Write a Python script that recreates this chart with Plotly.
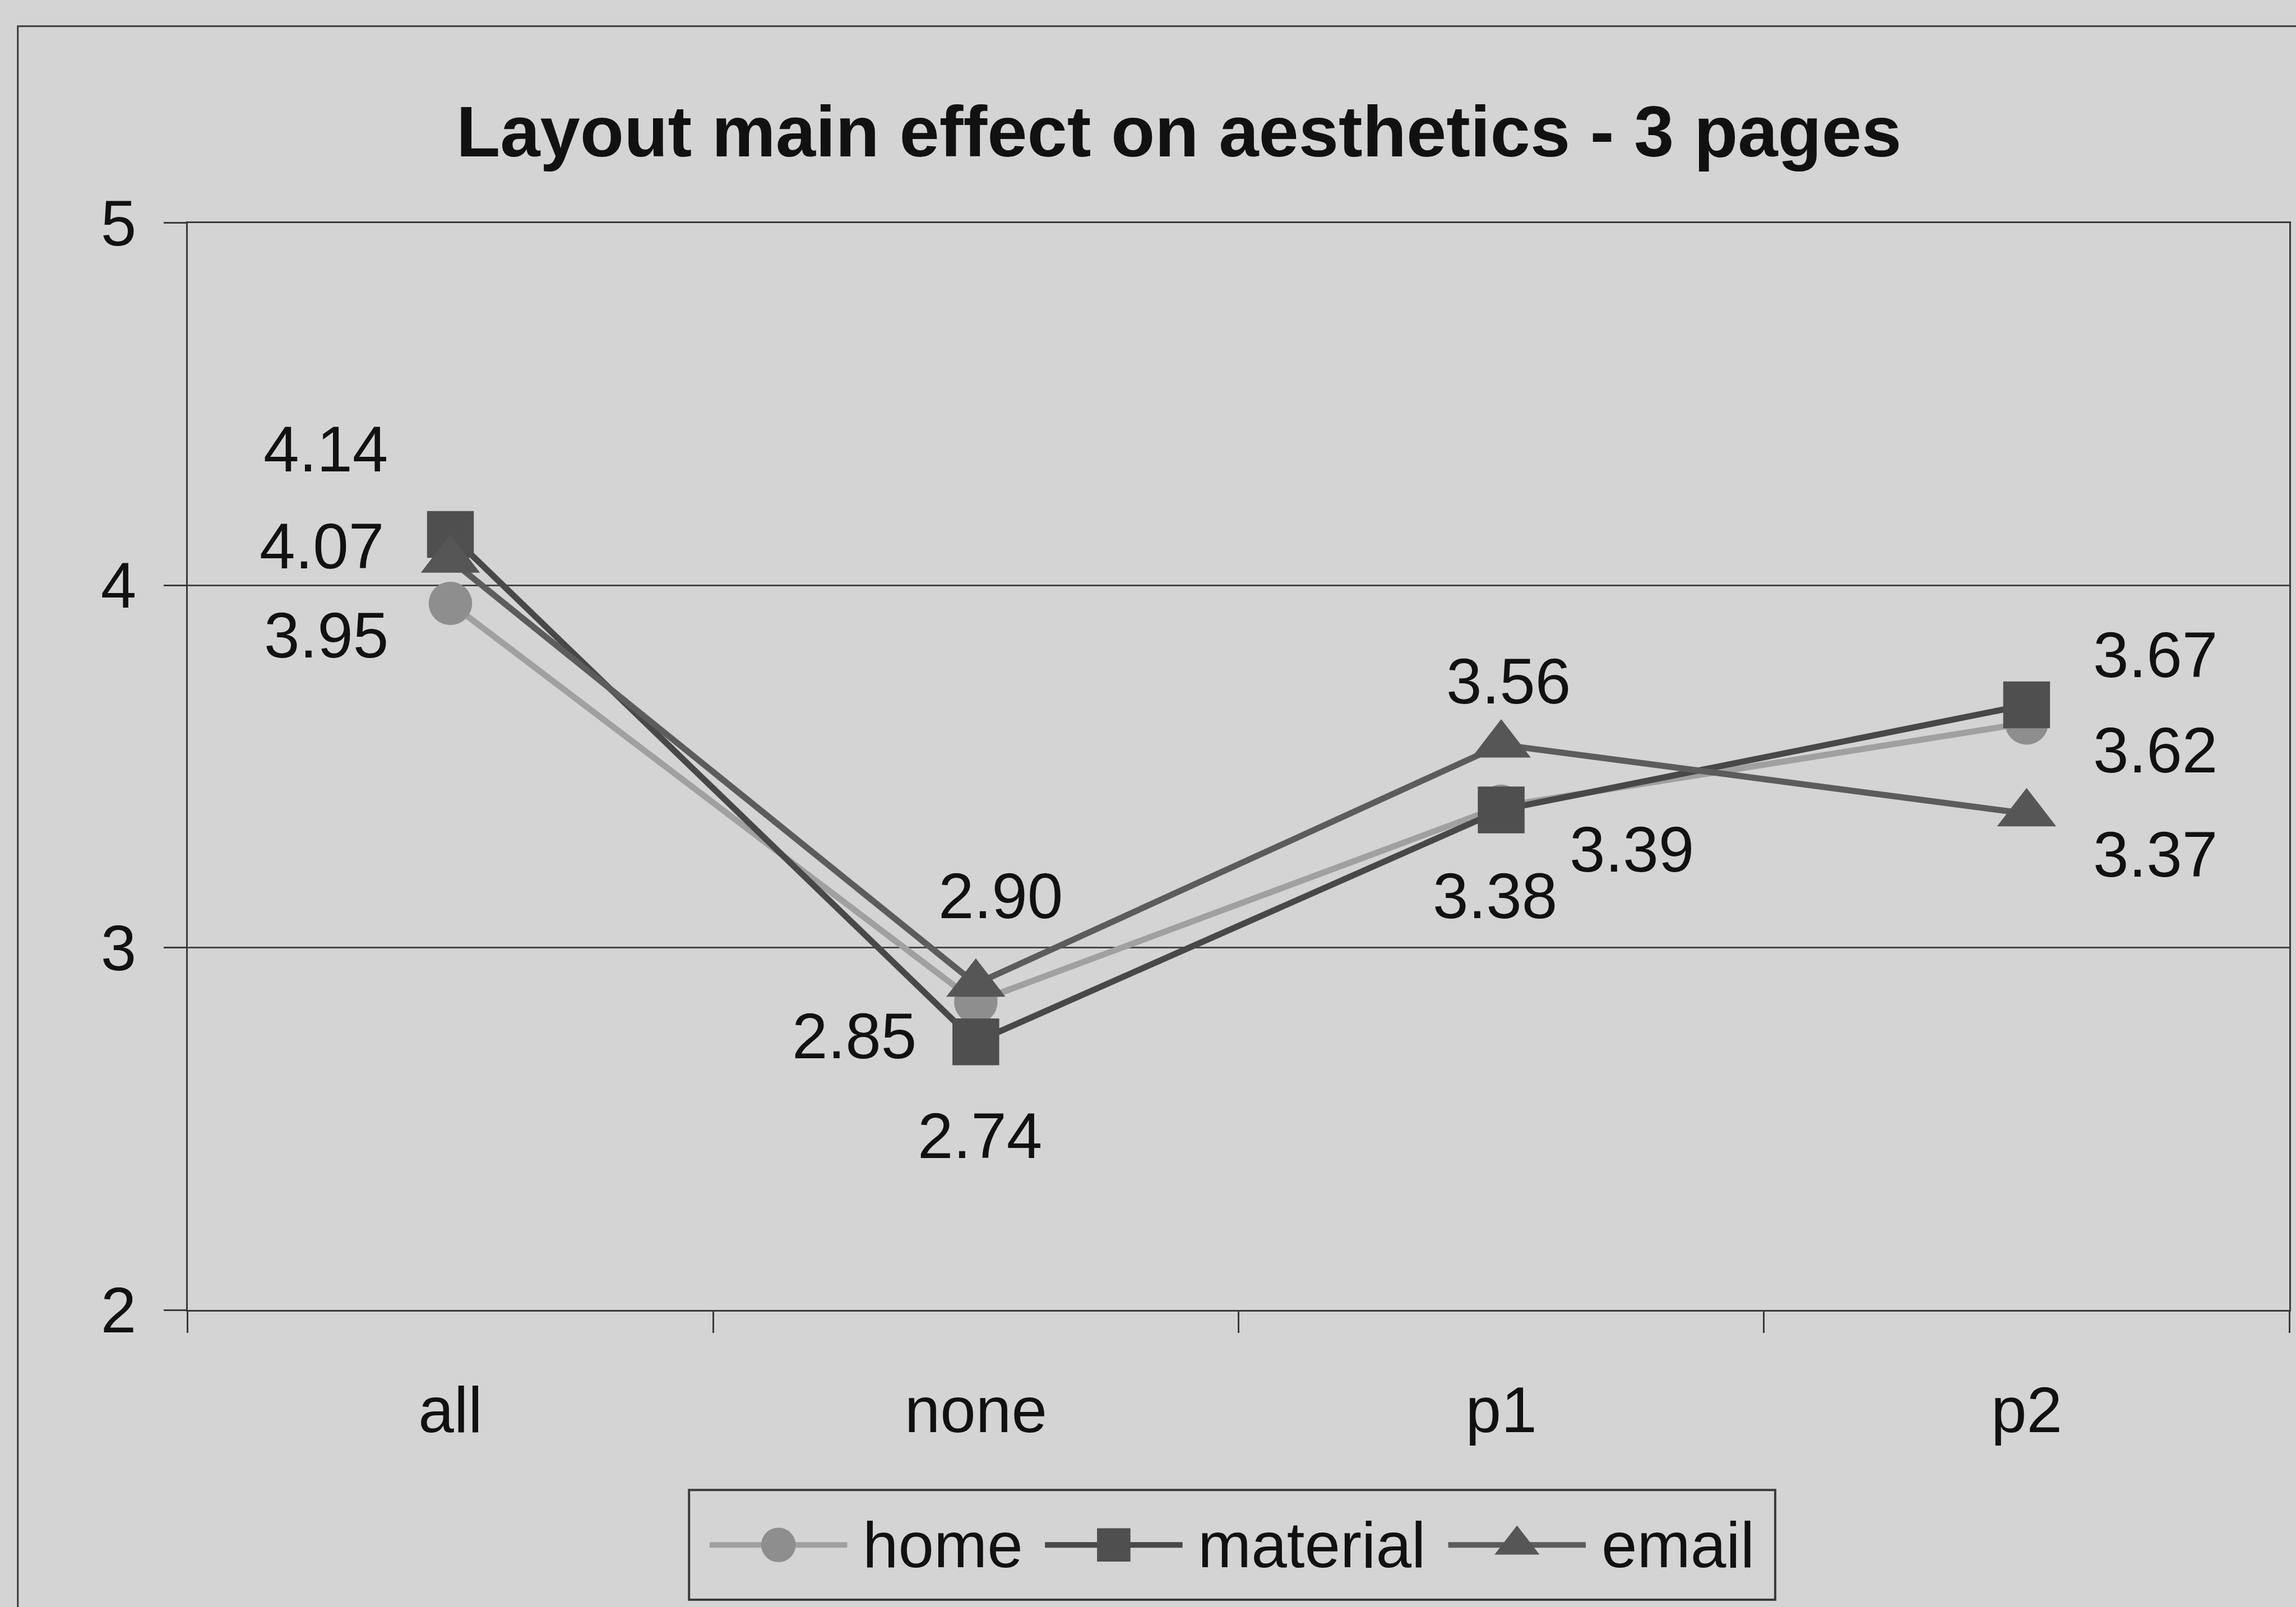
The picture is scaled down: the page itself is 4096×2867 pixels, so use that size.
import plotly.graph_objects as go

# ---- data -------------------------------------------------------------
categories = ["all", "none", "p1", "p2"]
home = [3.95, 2.85, 3.39, 3.62]
material = [4.14, 2.74, 3.38, 3.67]
email = [4.07, 2.90, 3.56, 3.37]
y_ticks = [2, 3, 4, 5]

# ---- page / style -----------------------------------------------------
W, H = 4096, 2867
BASE_W, BASE_H = 4122, 2885          # design grid the layout is laid out on
S = W / BASE_W                        # px scale of the design grid

FONT = "Liberation Sans, Arial, Helvetica, sans-serif"
BG = "#d4d4d4"
INK = "#111111"
AXIS = "#3a3a3a"
GRID = "#474747"

TXT = 115 * S
TITLE = 129 * S


def fx(px):
    return px / BASE_W


def fy(py):
    return 1 - py / BASE_H


series = [
    dict(name="home", values=home, symbol="circle", line="#a0a0a0",
         fill="#8e8e8e", size=78, key_size=62),
    dict(name="material", values=material, symbol="square", line="#484848",
         fill="#4f4f4f", size=84, key_size=60),
    dict(name="email", values=email, symbol="triangle-up", line="#5c5c5c",
         fill="#565656", size=92, key_size=70),
]

# value-label placement around each point: (right, down) in px
label_offsets = {
    "home": [(-223, 57), (-218, 61), (234, 77), (231, 49)],
    "material": [(-224, -153), (7, 169), (-11, 154), (231, -90)],
    "email": [(-231, -24), (44, -158), (13, -114), (231, 73)],
}

fig = go.Figure()

for s in series:
    fig.add_trace(go.Scatter(
        x=categories, y=s["values"], name=s["name"], mode="lines+markers",
        line=dict(color=s["line"], width=11 * S),
        marker=dict(symbol=s["symbol"], size=s["size"] * S, color=s["fill"],
                    line=dict(width=0)),
        showlegend=False, cliponaxis=False,
    ))

annotations = []
for s in series:
    for cat, v, (dx, dy) in zip(categories, s["values"], label_offsets[s["name"]]):
        annotations.append(dict(
            x=cat, y=v, xref="x", yref="y", text=f"{v:.2f}", showarrow=False,
            xanchor="center", yanchor="middle",
            xshift=dx * S, yshift=-dy * S,
            font=dict(family=FONT, size=TXT, color=INK),
        ))

# title
annotations.append(dict(
    x=fx(2116), y=fy(236), xref="paper", yref="paper",
    text="Layout main effect on aesthetics - 3 pages", showarrow=False,
    xanchor="center", yanchor="middle",
    font=dict(family=FONT, size=TITLE, color=INK, weight=700),
))

# ---- legend box (drawn on its own overlay axes) --------------------------
LEG_X0, LEG_X1, LEG_Y0, LEG_Y1 = 1237, 3187, 2675, 2872
KEY_LEN = 247
TEXT_GAP = 273
key_starts = [37, 639, 1363]

for s, k0 in zip(series, key_starts):
    fig.add_trace(go.Scatter(
        x=[k0, k0 + KEY_LEN], y=[0.5, 0.5], mode="lines",
        line=dict(color=s["line"], width=10 * S),
        xaxis="x2", yaxis="y2", showlegend=False, hoverinfo="skip",
    ))
    fig.add_trace(go.Scatter(
        x=[k0 + KEY_LEN / 2], y=[0.5], mode="markers", name=s["name"],
        marker=dict(symbol=s["symbol"], size=s["key_size"] * S, color=s["fill"],
                    line=dict(width=0)),
        xaxis="x2", yaxis="y2", showlegend=False, hoverinfo="skip",
    ))
    annotations.append(dict(
        x=k0 + TEXT_GAP, y=0.5, xref="x2", yref="y2", text=s["name"],
        showarrow=False, xanchor="left", yanchor="middle",
        font=dict(family=FONT, size=TXT, color=INK),
    ))

shapes = [
    # chart frame
    dict(type="rect", xref="paper", yref="paper",
         x0=fx(32), x1=1.02, y0=-0.02, y1=fy(47),
         line=dict(color=AXIS, width=3 * S), layer="below"),
    # legend frame
    dict(type="rect", xref="paper", yref="paper",
         x0=fx(LEG_X0), x1=fx(LEG_X1), y0=fy(LEG_Y1), y1=fy(LEG_Y0),
         line=dict(color=AXIS, width=4 * S), fillcolor=BG, layer="below"),
]

fig.update_layout(
    template="none",
    width=W, height=H,
    margin=dict(l=0, r=0, t=0, b=0, pad=0, autoexpand=False),
    paper_bgcolor=BG, plot_bgcolor=BG,
    font=dict(family=FONT, size=TXT, color=INK),
    showlegend=False,
    annotations=annotations,
    shapes=shapes,
    xaxis=dict(
        domain=[fx(337), fx(4110)], automargin=False,
        type="category", categoryorder="array", categoryarray=categories,
        range=[-0.5, len(categories) - 0.5],
        tickson="boundaries", ticks="outside", ticklen=38 * S,
        tickwidth=3 * S, tickcolor=AXIS,
        showline=True, linecolor=AXIS, linewidth=3 * S, mirror=True,
        showgrid=False, zeroline=False,
        tickfont=dict(family=FONT, size=TXT, color=INK),
        ticklabelstandoff=round(78 * S),
    ),
    yaxis=dict(
        domain=[fy(2352), fy(400)], automargin=False,
        range=[2, 5], tickvals=y_ticks, ticktext=[str(t) for t in y_ticks],
        ticks="outside", ticklen=40 * S, tickwidth=3 * S, tickcolor=AXIS,
        showline=True, linecolor=AXIS, linewidth=3 * S, mirror=True,
        showgrid=True, gridcolor=GRID, gridwidth=3 * S, zeroline=False,
        tickfont=dict(family=FONT, size=TXT, color=INK),
        ticklabelstandoff=round(26 * S),
    ),
    xaxis2=dict(
        domain=[fx(LEG_X0), fx(LEG_X1)], range=[0, LEG_X1 - LEG_X0],
        visible=False, anchor="y2", fixedrange=True, automargin=False,
    ),
    yaxis2=dict(
        domain=[fy(LEG_Y1), fy(LEG_Y0)], range=[0, 1],
        visible=False, anchor="x2", fixedrange=True, automargin=False,
    ),
)

fig.write_html("out.html")
